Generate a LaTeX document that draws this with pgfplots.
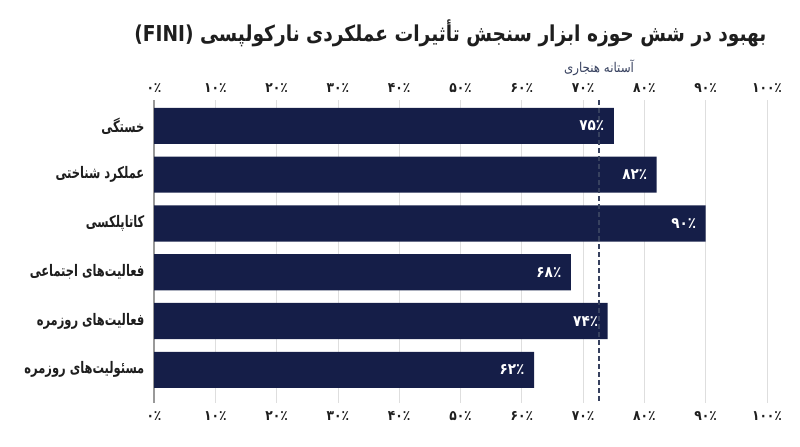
\documentclass[border=0pt]{standalone}
\usepackage{fontspec}
\usepackage{pgfplots}
\pgfplotsset{compat=1.18}
\setmainfont{DejaVu Sans}
\newfontfamily\fa[Script=Arabic]{DejaVu Sans}
\newfontfamily\facond[Script=Arabic, FakeStretch=0.72]{DejaVu Sans}
\newfontfamily\fatitle[Script=Arabic, FakeStretch=0.85]{DejaVu Sans}
\newfontfamily\fanum[Script=Arabic, FakeStretch=0.88]{DejaVu Sans}
\TeXXeTstate=1
\definecolor{navy}{RGB}{21,30,72}
\definecolor{txt}{RGB}{30,30,30}
\definecolor{gridc}{RGB}{222,222,222}
\definecolor{thr}{RGB}{55,65,95}

\begin{document}
\begin{tikzpicture}
\useasboundingbox (0,0) rectangle (800bp,447bp);
\node[anchor=east, text=txt, font=\fatitle\bfseries\fontsize{22}{26}\selectfont]
  at (770bp,414bp) {\beginR بهبود در شش حوزه ابزار سنجش تأثیرات عملکردی نارکولپسی \beginL(FINI)\endL\endR};

% main axis: bars, bottom labels
\begin{axis}[
  at={(154bp,44bp)}, anchor=south west,
  width=613bp, height=303bp, scale only axis,
  y dir=reverse,
  xmin=0, xmax=100, ymin=-0.53, ymax=5.68,
  axis lines=left,
  axis line style={-},
  x axis line style={draw=none},
  y axis line style={draw=gray!80, line width=1.4bp},
  tick style={draw=none},
  xmajorgrids, grid style={gridc, line width=0.8bp},
  xtick={0,10,...,100},
  xticklabels={۰٪,۱۰٪,۲۰٪,۳۰٪,۴۰٪,۵۰٪,۶۰٪,۷۰٪,۸۰٪,۹۰٪,۱۰۰٪},
  xticklabel style={text=txt, font=\fanum\bfseries\fontsize{14}{16}\selectfont, yshift=-3bp},
  ytick={0,...,5},
  yticklabels={\beginR خستگی\endR,\beginR عملکرد شناختی\endR,\beginR کاتاپلکسی\endR,\beginR فعالیت‌های اجتماعی\endR,\beginR فعالیت‌های روزمره\endR,\beginR مسئولیت‌های روزمره\endR},
  yticklabel style={text=txt, font=\facond\bfseries\fontsize{16}{19}\selectfont, xshift=-4bp},
  clip=false,
]
\addplot[xbar, bar width=0.74, fill=navy, draw=none,
  point meta=explicit symbolic, nodes near coords,
  every node near coord/.append style={anchor=east, xshift=-6bp, text=white,
    font=\fanum\bfseries\fontsize{15.5}{18}\selectfont}]
  coordinates {(75,0) [۷۵٪] (82,1) [۸۲٪] (90,2) [۹۰٪] (68,3) [۶۸٪] (74,4) [۷۴٪] (62,5) [۶۲٪]};
\addplot[thr, line width=1.1bp, dash pattern=on 5bp off 3bp] coordinates {(72.6,-0.53) (72.6,5.68)};
\node[text=thr, font=\fanum\fontsize{13.5}{16}\selectfont, anchor=center, yshift=32bp]
  at (axis cs:72.6,-0.53) {\beginR آستانه هنجاری\endR};
\end{axis}

% overlay axis: top tick labels
\begin{axis}[
  at={(154bp,44bp)}, anchor=south west,
  width=613bp, height=303bp, scale only axis,
  xmin=0, xmax=100, ymin=0, ymax=1,
  axis x line*=top, hide y axis,
  x axis line style={draw=none},
  tick style={draw=none},
  xtick={0,10,...,100},
  xticklabels={۰٪,۱۰٪,۲۰٪,۳۰٪,۴۰٪,۵۰٪,۶۰٪,۷۰٪,۸۰٪,۹۰٪,۱۰۰٪},
  xticklabel style={text=txt, font=\fanum\bfseries\fontsize{14}{16}\selectfont, yshift=4bp},
]
\end{axis}
\end{tikzpicture}
\end{document}
